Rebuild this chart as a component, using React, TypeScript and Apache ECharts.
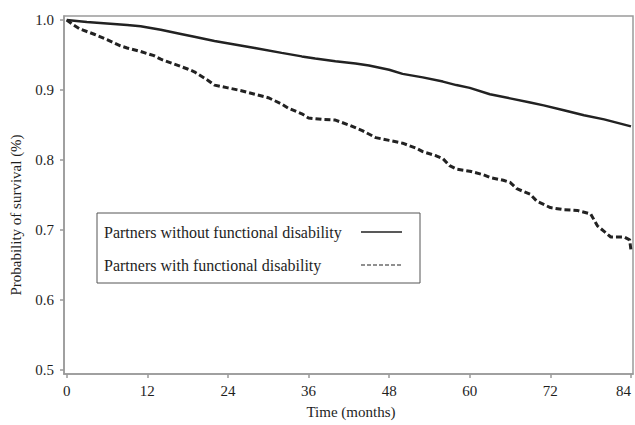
import React, { useEffect, useRef } from "react";
import * as echarts from "echarts";

const xTicks = [0, 12, 24, 36, 48, 60, 72, 84];
const yTicks = [0.5, 0.6, 0.7, 0.8, 0.9, 1.0];

const seriesNames = [
  "Partners without functional disability",
  "Partners with functional disability",
];

const monthsWithout = [0, 3, 6, 9, 11, 14, 17, 19, 22, 25, 28, 32, 35, 37, 40, 43, 45, 48, 50, 53, 56, 58, 60, 63, 66, 69, 71, 74, 77, 80, 82, 84];
const survivalWithout = [1.0, 0.997, 0.995, 0.993, 0.991, 0.986, 0.98, 0.976, 0.97, 0.965, 0.96, 0.953, 0.948, 0.945, 0.941, 0.938, 0.935, 0.929, 0.923, 0.918, 0.912, 0.907, 0.903, 0.894, 0.888, 0.882, 0.878, 0.871, 0.864, 0.858, 0.853, 0.848];

const monthsWith = [0, 1, 2, 4, 6, 8, 9, 11, 13, 14, 16, 18, 19, 21, 22, 24, 26, 28, 30, 32, 33, 35, 36, 38, 40, 42, 44, 46, 48, 50, 52, 53, 55, 56, 57, 58, 60, 62, 63, 65, 66, 67, 68, 69, 70, 72, 74, 76, 78, 79, 80, 81, 83, 83.8, 84];
const survivalWith = [1.0, 0.993, 0.987, 0.98, 0.972, 0.963, 0.96, 0.955, 0.949, 0.944, 0.937, 0.93, 0.926, 0.914, 0.907, 0.903, 0.899, 0.894, 0.889, 0.88, 0.874, 0.866, 0.86, 0.858, 0.857, 0.85, 0.842, 0.832, 0.828, 0.824, 0.817, 0.812, 0.806, 0.802, 0.792, 0.787, 0.784, 0.779, 0.775, 0.771, 0.768, 0.759, 0.755, 0.751, 0.741, 0.732, 0.729, 0.728, 0.723, 0.706, 0.698, 0.69, 0.69, 0.686, 0.671];

const FONT = "'Liberation Serif', 'Times New Roman', serif";
const AXIS_COLOR = "#9a9a9a";
const TEXT_COLOR = "#1e1e1e";

export default function App() {
  const ref = useRef<HTMLDivElement>(null);
  useEffect(() => {
    if (!ref.current) return;
    const chart = echarts.init(ref.current, undefined, { renderer: "svg" });
    const pair = (xs: number[], ys: number[]) => xs.map((x, i) => [x, ys[i]]);
    chart.setOption({
      animation: false,
      backgroundColor: "#ffffff",
      textStyle: { fontFamily: FONT },
      grid: {
        left: 64,
        top: 16,
        right: 2,
        bottom: 51,
        show: true,
        borderColor: AXIS_COLOR,
        borderWidth: 1.5,
        outerBoundsMode: "none",
        containLabel: false,
      },
      xAxis: {
        type: "value",
        min: -0.4,
        max: 84.3,
        splitLine: { show: false },
        axisLine: { show: true, onZero: false, lineStyle: { color: AXIS_COLOR, width: 1.5 } },
        axisTick: { show: true, length: 4, customValues: xTicks, lineStyle: { color: AXIS_COLOR, width: 1.5 } },
        axisLabel: {
          customValues: xTicks,
          margin: 9,
          color: TEXT_COLOR,
          fontFamily: FONT,
          fontSize: 15,
          alignMaxLabel: "right",
          formatter: (v: number) => String(Math.round(v)),
        },
      },
      yAxis: {
        type: "value",
        min: 0.4943,
        max: 1.0057,
        splitLine: { show: false },
        axisLine: { show: true, onZero: false, lineStyle: { color: AXIS_COLOR, width: 1.5 } },
        axisTick: { show: true, length: 4, customValues: yTicks, lineStyle: { color: AXIS_COLOR, width: 1.5 } },
        axisLabel: {
          customValues: yTicks,
          margin: 10,
          color: TEXT_COLOR,
          fontFamily: FONT,
          fontSize: 15,
          formatter: (v: number) => v.toFixed(1),
        },
      },
      series: [
        {
          name: seriesNames[0],
          type: "line",
          data: pair(monthsWithout, survivalWithout),
          showSymbol: false,
          symbol: "none",
          lineStyle: { color: "#222", width: 2.5 },
        },
        {
          name: seriesNames[1],
          type: "line",
          data: pair(monthsWith, survivalWith),
          showSymbol: false,
          symbol: "none",
          lineStyle: { color: "#222", width: 3, type: [6, 3] },
        },
      ],
      graphic: [
        {
          type: "rect",
          shape: { x: 97, y: 213, width: 323, height: 70 },
          style: { fill: "#fff", stroke: "#555", lineWidth: 1 },
          z: 100,
        },
        {
          type: "text",
          x: 104,
          y: 232,
          style: { text: seriesNames[0], fill: TEXT_COLOR, font: `16px ${FONT}`, verticalAlign: "middle", align: "left" },
          z: 101,
        },
        {
          type: "text",
          x: 104,
          y: 265,
          style: { text: seriesNames[1], fill: TEXT_COLOR, font: `16px ${FONT}`, verticalAlign: "middle", align: "left" },
          z: 101,
        },
        {
          type: "line",
          shape: { x1: 361, y1: 232, x2: 402, y2: 232 },
          style: { stroke: "#222", lineWidth: 1.5 },
          z: 101,
        },
        {
          type: "line",
          shape: { x1: 361, y1: 265, x2: 402, y2: 265 },
          style: { stroke: "#222", lineWidth: 1.2, lineDash: [4, 2] },
          z: 101,
        },
        {
          type: "text",
          x: 16,
          y: 215,
          rotation: Math.PI / 2,
          style: { text: "Probability of survival (%)", fill: TEXT_COLOR, font: `15px ${FONT}`, align: "center", verticalAlign: "middle" },
        },
        {
          type: "text",
          x: 351,
          y: 412,
          style: { text: "Time (months)", fill: TEXT_COLOR, font: `15px ${FONT}`, align: "center", verticalAlign: "middle" },
        },
      ],
    });
    return () => chart.dispose();
  }, []);
  return (
    <div
      ref={ref}
      style={{ position: "fixed", left: 0, top: 0, width: 635, height: 425, background: "#fff" }}
    />
  );
}
